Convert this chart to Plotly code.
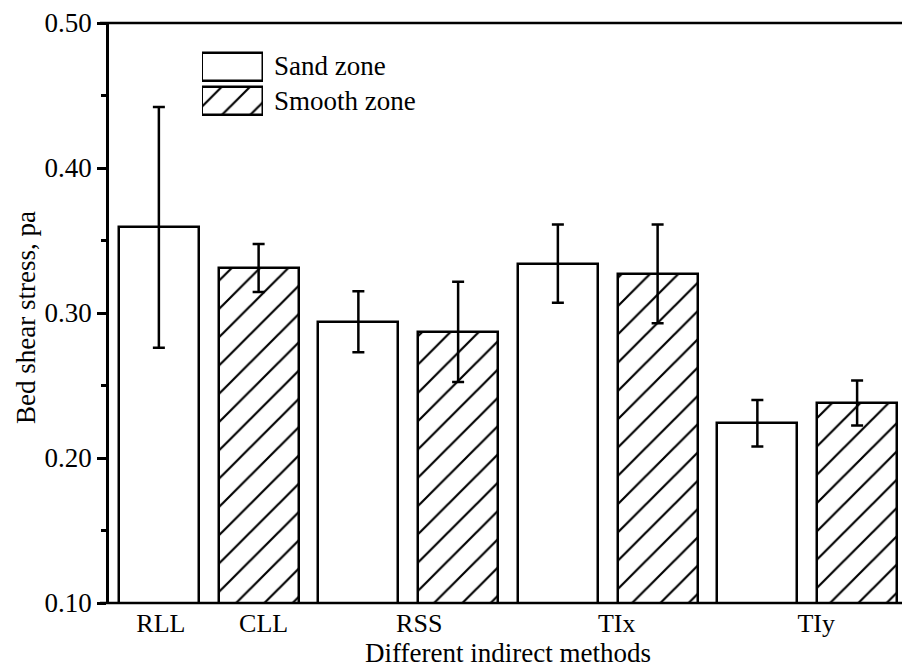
import plotly.graph_objects as go

# Bed shear stress estimated by each indirect method, per bed zone
bar_methods = ["RLL", "CLL", "RSS", "RSS", "TIx", "TIx", "TIy", "TIy"]
bar_zones = ["Sand zone", "Smooth zone", "Sand zone", "Smooth zone",
             "Sand zone", "Smooth zone", "Sand zone", "Smooth zone"]
stress = [0.359, 0.331, 0.294, 0.287, 0.334, 0.327, 0.224, 0.238]
stress_err = [0.083, 0.0165, 0.021, 0.0345, 0.027, 0.034, 0.016, 0.0155]

method_labels = ["RLL", "CLL", "RSS", "TIx", "TIy"]
method_label_pos = [0.02, 1.05, 2.61, 4.59, 6.59]

y_ticks = [0.10, 0.20, 0.30, 0.40, 0.50]
legend_zones = ["Sand zone", "Smooth zone"]

FAMILY = "Times New Roman, Liberation Serif, serif"
LW = 2.5
SOLIDITY = 0.11


def font(size=27, family=FAMILY):
    return dict(family=family, size=size, color="black")


def hatch(shapes):
    return dict(shape=shapes, fgcolor="black", bgcolor="white", fgopacity=1,
                size=20, solidity=SOLIDITY, fillmode="replace")


fig = go.Figure()

x_idx = list(range(len(stress)))
fig.add_trace(go.Bar(
    x=x_idx, y=stress, width=0.802,
    marker=dict(color="white", line=dict(color="black", width=LW),
                pattern=hatch(["/" if z == "Smooth zone" else "" for z in bar_zones])),
    error_y=dict(type="data", array=stress_err, visible=True,
                 color="black", thickness=LW, width=6),
    showlegend=False,
    hovertext=[f"{m} ({z})" for m, z in zip(bar_methods, bar_zones)],
))

# legend swatches drawn as small bars on an inset axis
fig.add_trace(go.Bar(
    x=[1, 1], y=[1, 0], orientation="h", width=0.84,
    marker=dict(color="white", line=dict(color="black", width=LW),
                pattern=hatch(["", "/"])),
    xaxis="x2", yaxis="y2", showlegend=False, hoverinfo="skip",
))

W, H = 902, 668
ML, MR, MT, MB = 109, 0, 23, 65
pw, ph = W - ML - MR, H - MT - MB


def px_x(px):
    return (px - ML) / pw


def px_y(py):
    return (H - MB - py) / ph


fig.update_layout(
    width=W, height=H,
    margin=dict(l=ML, r=MR, t=MT, b=MB, pad=0),
    plot_bgcolor="white", paper_bgcolor="white",
    font=font(),
    bargap=0,
    xaxis=dict(range=[-0.5, 7.45], tickvals=method_label_pos, ticktext=method_labels,
               ticks="", showline=False, showgrid=False, zeroline=False,
               ticklabelstandoff=2, tickfont=font(26)),
    yaxis=dict(range=[0.10, 0.50], tickvals=y_ticks,
               ticktext=[f"{v:.2f}" for v in y_ticks],
               ticks="outside", ticklen=9, tickwidth=LW, tickcolor="black",
               showline=True, linewidth=LW, linecolor="black",
               showgrid=False, zeroline=False, ticklabelstandoff=0,
               tickfont=font(27),
               minor=dict(tickvals=[0.15, 0.25, 0.35, 0.45], ticks="outside",
                          ticklen=5, tickwidth=LW, tickcolor="black")),
    xaxis2=dict(domain=[px_x(202), px_x(263)], range=[0, 1], visible=False,
                anchor="y2", fixedrange=True),
    yaxis2=dict(domain=[px_y(118), px_y(50)], range=[-0.5, 1.5], visible=False,
                anchor="x2", fixedrange=True),
)

# frame lines along the bottom and top of the plotting area
for yv in (0, 1):
    fig.add_shape(type="line", xref="paper", yref="paper",
                  x0=px_x(100), x1=1.0, y0=yv, y1=yv,
                  line=dict(color="black", width=LW))

# legend labels
for name, py in zip(legend_zones, [66, 101]):
    fig.add_annotation(text=name, xref="paper", yref="paper",
                       x=px_x(272), y=px_y(py), xanchor="left", yanchor="middle",
                       showarrow=False, font=font(27))

# axis titles
fig.add_annotation(text="Different indirect methods", xref="paper", yref="paper",
                   x=px_x(508), y=px_y(653), xanchor="center", yanchor="middle",
                   showarrow=False, font=font(27))
fig.add_annotation(text="Bed shear stress, pa", xref="paper", yref="paper",
                   x=px_x(26), y=px_y(318), xanchor="center", yanchor="middle",
                   textangle=-90, showarrow=False, font=font(27))

fig.write_html("out.html")
